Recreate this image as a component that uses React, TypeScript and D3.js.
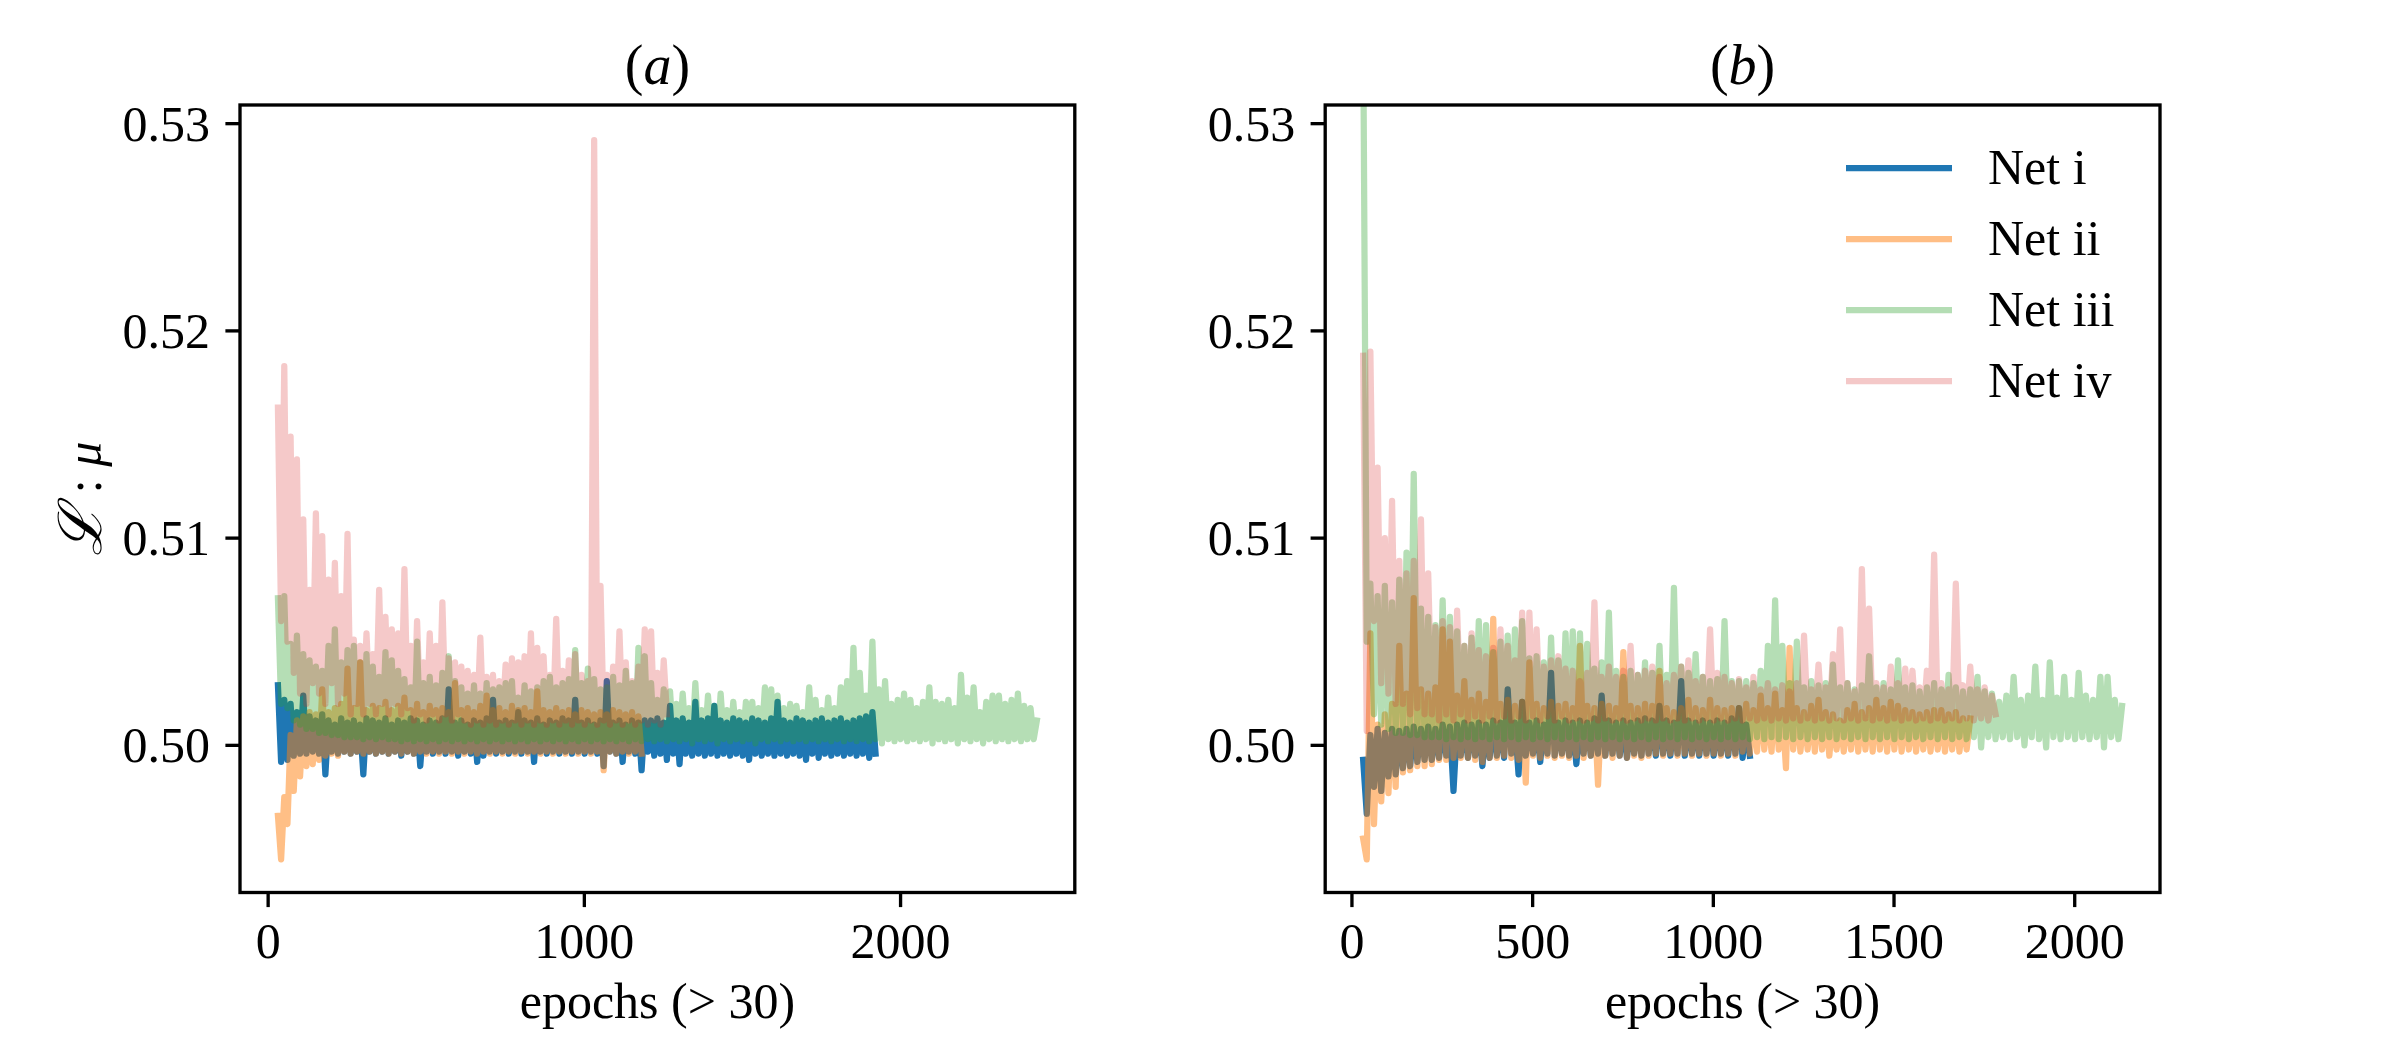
import React from "react";
import * as d3 from "d3";

// first logged epoch and spacing of the values below (peaks and troughs alternate)
const firstEpoch = 31;
const epochStep = 10;

// panel (a)
const netIa = [
  .5029, .4992, .5022, .4993, .5020, .4995, .5016, .4996, .5024, .4996, .5014, .4997, .5012, .4996, .5015, .4986, .5012, .4997, .5010, .4996,
  .5013, .4997, .5011, .4996, .5012, .4997, .5010, .4986, .5013, .4997, .5012, .4996, .5011, .4997, .5013, .4996, .5010, .4997, .5012, .4995,
  .5011, .4997, .5013, .4996, .5012, .4990, .5010, .4997, .5012, .4996, .5011, .4997, .5013, .4996, .5027, .4997, .5011, .4995, .5012, .4997,
  .5010, .4996, .5012, .4992, .5011, .4995, .5013, .4997, .5022, .4996, .5011, .4997, .5012, .4996, .5011, .4997, .5016, .4996, .5012, .4997,
  .5011, .4992, .5013, .4997, .5010, .4996, .5012, .4997, .5011, .4996, .5013, .4997, .5012, .4996, .5022, .4997, .5011, .4996, .5012, .4997,
  .5010, .4996, .5012, .4990, .5031, .4997, .5011, .4996, .5012, .4992, .5010, .4997, .5012, .4996, .5011, .4988, .5012, .4997, .5012, .4995,
  .5013, .4996, .5011, .4993, .5019, .4996, .5012, .4991, .5013, .4996, .5011, .4995, .5021, .4996, .5012, .4995, .5013, .4996, .5019, .4995,
  .5012, .4996, .5011, .4995, .5013, .4996, .5012, .4995, .5011, .4993, .5013, .4996, .5012, .4995, .5011, .4996, .5013, .4995, .5021, .4996,
  .5012, .4995, .5011, .4996, .5013, .4995, .5012, .4993, .5011, .4996, .5012, .4994, .5013, .4996, .5011, .4995, .5012, .4996, .5013, .4995,
  .5011, .4996, .5012, .4995, .5013, .4996, .5014, .4994, .5016, .4996,
];
const netIIa = [
  .4966, .4945, .4975, .4962, .5005, .4978, .5012, .4985, .5014, .4990, .5016, .4991, .5015, .4993, .5027, .4995, .5016, .4996, .5018, .4995,
  .5020, .4997, .5037, .4996, .5018, .4997, .5040, .4996, .5017, .4997, .5019, .4996, .5018, .4997, .5021, .4996, .5017, .4997, .5019, .4996,
  .5023, .4997, .5017, .4996, .5020, .4997, .5016, .4996, .5019, .4997, .5017, .4996, .5018, .4997, .5016, .4996, .5030, .4997, .5017, .4996,
  .5018, .4997, .5016, .4996, .5019, .4997, .5024, .4996, .5017, .4997, .5018, .4996, .5016, .4997, .5019, .4996, .5017, .4997, .5018, .4996,
  .5016, .4997, .5026, .4996, .5017, .4997, .5016, .4996, .5018, .4997, .5016, .4996, .5017, .4997, .5015, .4996, .5017, .4997, .5016, .4996,
  .5015, .4997, .5016, .4988, .5015, .4997, .5017, .4996, .5016, .4997, .5015, .4996, .5016, .4997, .5014, .4996,
];
const netIIIa = [
  .5071, .5020, .5072, .5018, .5049, .5012, .5053, .5010, .5044, .5008, .5041, .5008, .5038, .5006, .5036, .5006, .5048, .5005, .5056, .5005,
  .5040, .5004, .5046, .5004, .5048, .5004, .5040, .5003, .5044, .5004, .5038, .5003, .5033, .5004, .5045, .5003, .5041, .5003, .5036, .5002,
  .5032, .5003, .5028, .5002, .5050, .5003, .5030, .5002, .5033, .5003, .5029, .5002, .5035, .5003, .5043, .5002, .5031, .5003, .5028, .5002,
  .5025, .5003, .5029, .5002, .5025, .5003, .5030, .5002, .5027, .5003, .5028, .5002, .5030, .5003, .5031, .5002, .5023, .5003, .5029, .5002,
  .5026, .5003, .5028, .5002, .5031, .5003, .5033, .5002, .5028, .5003, .5030, .5002, .5032, .5003, .5046, .5002, .5030, .5003, .5037, .5002,
  .5032, .5003, .5027, .5002, .5028, .5003, .5033, .5002, .5029, .5003, .5036, .5002, .5030, .5003, .5047, .5002, .5043, .5003, .5030, .5002,
  .5022, .5003, .5027, .5002, .5026, .5003, .5020, .5002, .5025, .5003, .5018, .5001, .5030, .5003, .5017, .5002, .5024, .5003, .5019, .5001,
  .5025, .5003, .5017, .5002, .5021, .5003, .5016, .5002, .5021, .5003, .5021, .5001, .5018, .5003, .5028, .5002, .5027, .5003, .5024, .5002,
  .5018, .5003, .5020, .5002, .5019, .5003, .5016, .5002, .5028, .5003, .5022, .5002, .5017, .5003, .5023, .5002, .5018, .5003, .5028, .5002,
  .5031, .5003, .5047, .5002, .5035, .5003, .5024, .5002, .5050, .5003, .5027, .5001, .5031, .5003, .5020, .5002, .5022, .5003, .5025, .5002,
  .5022, .5003, .5018, .5002, .5021, .5003, .5028, .5001, .5021, .5003, .5020, .5002, .5022, .5003, .5018, .5001, .5034, .5003, .5023, .5002,
  .5028, .5003, .5016, .5001, .5021, .5003, .5024, .5002, .5024, .5003, .5020, .5002, .5022, .5003, .5025, .5002, .5019, .5003, .5018, .5003,
  .5012,
];
const netIVa = [
  .5163, .5060, .5183, .5050, .5149, .5035, .5138, .5025, .5109, .5020, .5075, .5030, .5112, .5025, .5101, .5020, .5080, .5030, .5088, .5020,
  .5072, .5025, .5102, .5015, .5051, .5020, .5048, .5015, .5054, .5020, .5044, .5015, .5075, .5020, .5062, .5015, .5056, .5020, .5054, .5015,
  .5085, .5018, .5048, .5012, .5060, .5015, .5040, .5012, .5054, .5015, .5048, .5012, .5069, .5015, .5042, .5012, .5040, .5015, .5038, .5012,
  .5036, .5010, .5034, .5012, .5052, .5010, .5033, .5012, .5034, .5010, .5031, .5012, .5039, .5010, .5042, .5012, .5040, .5010, .5043, .5012,
  .5054, .5010, .5047, .5012, .5043, .5010, .5034, .5012, .5061, .5010, .5036, .5012, .5041, .5010, .5044, .5012, .5034, .5010, .5031, .5012,
  .5292, .5010, .5077, .5012, .5034, .5010, .5038, .5012, .5055, .5010, .5040, .5012, .5031, .5010, .5038, .5012, .5056, .5010, .5055, .5012,
  .5035, .5010, .5041, .5015,
];

// panel (b)
const netIb = [
  .4993, .4967, .5005, .4980, .5008, .4978, .5006, .4985, .5008, .4986, .5007, .4989, .5008, .4990, .5009, .4992, .5008, .4993, .5009, .4993,
  .5008, .4994, .5010, .4995, .5009, .4978, .5010, .4995, .5011, .4994, .5010, .4995, .5011, .4990, .5010, .4994, .5012, .4995, .5011, .4994,
  .5027, .4996, .5011, .4986, .5021, .4995, .5011, .4996, .5012, .4992, .5010, .4996, .5035, .4995, .5011, .4996, .5012, .4995, .5011, .4991,
  .5012, .4996, .5011, .4995, .5013, .4996, .5024, .4995, .5012, .4996, .5011, .4995, .5012, .4994, .5011, .4996, .5012, .4995, .5013, .4996,
  .5012, .4995, .5019, .4996, .5012, .4995, .5011, .4996, .5031, .4995, .5012, .4996, .5011, .4995, .5012, .4996, .5011, .4995, .5012, .4996,
  .5011, .4995, .5013, .4996, .5018, .4994, .5010, .4995,
];
const netIIb = [
  .4955, .4945, .5054, .4962, .5010, .4973, .5015, .4977, .5020, .4980, .5048, .4987, .5025, .4988, .5071, .4990, .5027, .4990, .5025, .4991,
  .5028, .4993, .5056, .4993, .5050, .4994, .5024, .4994, .5031, .4994, .5022, .4993, .5025, .4992, .5021, .4994, .5061, .4994, .5020, .4995,
  .5022, .4994, .5019, .4993, .5021, .4982, .5040, .4995, .5020, .4994, .5018, .4995, .5021, .4994, .5019, .4995, .5020, .4994, .5018, .4995,
  .5048, .4994, .5019, .4995, .5018, .4981, .5020, .4995, .5019, .4994, .5018, .4995, .5045, .4994, .5019, .4995, .5018, .4994, .5020, .4995,
  .5019, .4996, .5036, .4995, .5018, .4996, .5016, .4995, .5018, .4996, .5022, .4995, .5018, .4996, .5017, .4995, .5022, .4996, .5018, .4995,
  .5017, .4996, .5018, .4995, .5018, .4997, .5020, .4996, .5017, .4997, .5024, .4998, .5018, .4997, .5025, .4998, .5017, .4989, .5047, .4998,
  .5018, .4997, .5016, .4998, .5019, .4997, .5022, .4998, .5016, .4995, .5015, .4998, .5012, .4997, .5017, .4998, .5020, .4997, .5016, .4998,
  .5018, .4997, .5022, .4998, .5018, .4997, .5021, .4998, .5019, .4997, .5017, .4998, .5016, .4997, .5015, .4998, .5016, .4997, .5017, .4998,
  .5017, .4997, .5015, .4998, .5016, .4997, .5013, .4998, .5013,
];
const netIIIb = [
  .5350, .5050, .5078, .5015, .5072, .5010, .5077, .5008, .5069, .5006, .5080, .5006, .5093, .5005, .5131, .5005, .5066, .5004, .5062, .5004,
  .5058, .5004, .5070, .5003, .5062, .5004, .5055, .5003, .5048, .5004, .5052, .5003, .5060, .5004, .5058, .5003, .5045, .5004, .5050, .5003,
  .5053, .5004, .5056, .5003, .5060, .5004, .5042, .5003, .5043, .5004, .5040, .5003, .5052, .5004, .5041, .5003, .5054, .5004, .5055, .5003,
  .5054, .5004, .5049, .5003, .5037, .5004, .5040, .5003, .5064, .5004, .5036, .5003, .5033, .5004, .5036, .5003, .5034, .5004, .5040, .5003,
  .5035, .5004, .5048, .5003, .5034, .5004, .5076, .5003, .5038, .5004, .5035, .5003, .5044, .5004, .5033, .5003, .5031, .5004, .5032, .5003,
  .5060, .5004, .5031, .5003, .5031, .5004, .5031, .5003, .5030, .5004, .5036, .5003, .5048, .5004, .5070, .5003, .5048, .5004, .5030, .5003,
  .5050, .5004, .5028, .5003, .5031, .5004, .5029, .5003, .5030, .5004, .5039, .5003, .5028, .5004, .5030, .5003, .5027, .5004, .5029, .5003,
  .5043, .5004, .5028, .5003, .5030, .5004, .5027, .5003, .5041, .5004, .5028, .5003, .5029, .5004, .5026, .5003, .5028, .5004, .5030, .5003,
  .5027, .5004, .5034, .5003, .5028, .5004, .5026, .5003, .5027, .5004, .5033, .4999, .5026, .5004, .5025, .5003, .5021, .5004, .5024, .5003,
  .5033, .5004, .5022, .5000, .5024, .5004, .5038, .5003, .5022, .4999, .5040, .5004, .5023, .5003, .5033, .5004, .5022, .5003, .5035, .5004,
  .5024, .5003, .5022, .5004, .5033, .4999, .5033, .5004, .5022, .5003, .5019,
];
const netIVb = [
  .5188, .5007, .5190, .5060, .5134, .5030, .5100, .5025, .5118, .5020, .5089, .5020, .5083, .5015, .5089, .5018, .5109, .5015, .5083, .5015,
  .5057, .5012, .5060, .5015, .5057, .5012, .5065, .5015, .5048, .5012, .5054, .5014, .5046, .5012, .5043, .5014, .5047, .5012, .5056, .5014,
  .5048, .5012, .5041, .5014, .5064, .5012, .5064, .5014, .5056, .5012, .5038, .5014, .5041, .5012, .5043, .5014, .5037, .5012, .5036, .5013,
  .5031, .5012, .5035, .5013, .5069, .5012, .5033, .5013, .5038, .5012, .5033, .5013, .5036, .5012, .5048, .5013, .5034, .5012, .5036, .5013,
  .5038, .5012, .5033, .5013, .5030, .5012, .5034, .5013, .5038, .5012, .5041, .5013, .5031, .5012, .5033, .5013, .5056, .5012, .5035, .5013,
  .5033, .5012, .5030, .5013, .5032, .5012, .5028, .5013, .5033, .5012, .5027, .5013, .5030, .5012, .5027, .5013, .5029, .5012, .5026, .5013,
  .5030, .5012, .5053, .5013, .5027, .5012, .5039, .5013, .5028, .5012, .5044, .5013, .5056, .5012, .5030, .5013, .5026, .5012, .5085, .5013,
  .5066, .5012, .5030, .5013, .5028, .5012, .5038, .5013, .5030, .5012, .5037, .5013, .5036, .5012, .5028, .5013, .5036, .5012, .5092, .5013,
  .5030, .5012, .5027, .5013, .5078, .5012, .5029, .5013, .5038, .5012, .5027, .5013, .5028, .5012, .5024, .5015,
];

const netLabels = ["Net i", "Net ii", "Net iii", "Net iv"];
const netColors = ["#1f77b4", "#ff7f0e", "#2ca02c", "#d62728"];
const netAlpha = [1, 0.5, 0.35, 0.25];
const yTicks = [0.5, 0.51, 0.52, 0.53];
const xTicksA = [0, 1000, 2000];
const xTicksB = [0, 500, 1000, 1500, 2000];
const yDomain = [0.4929, 0.5309];

const W = 2400;
const H = 1050;
const top = 105;
const bottom = 892.5;
const axW = 834.8;
const lw = 6.25;
const tickLen = 14.6;
const spineW = 3.33;
const serif = "'Liberation Serif', 'Times New Roman', 'DejaVu Serif', serif";

const Panel = ({ id, left, series, xTicks, title, legend, ylabel }: any) => {
    const n = d3.max(series, (s: number[]) => s.length) as number;
    const last = firstEpoch + (n - 1) * epochStep;
    const pad = 0.05 * (last - firstEpoch);
    const x = d3.scaleLinear().domain([firstEpoch - pad, last + pad]).range([left, left + axW]);
    const y = d3.scaleLinear().domain(yDomain).range([bottom, top]);
    const line = d3.line<number>()
        .x((_, i) => x(firstEpoch + i * epochStep))
        .y(d => y(d));

    return (
        <g fontFamily={serif}>
            <defs>
                <clipPath id={id}>
                    <rect x={left} y={top} width={axW} height={bottom - top} />
                </clipPath>
            </defs>
            <g clipPath={`url(#${id})`}>
                {series.map((s: number[], i: number) => (
                    <path key={i} d={line(s) as string} fill="none" stroke={netColors[i]} opacity={netAlpha[i]}
                        strokeWidth={lw} strokeLinejoin="round" strokeLinecap="square" />
                ))}
            </g>
            <rect x={left} y={top} width={axW} height={bottom - top} fill="none" stroke="#000" strokeWidth={spineW} />
            {xTicks.map((t: number) => (
                <g key={t}>
                    <line x1={x(t)} x2={x(t)} y1={bottom} y2={bottom + tickLen} stroke="#000" strokeWidth={spineW} />
                    <text x={x(t)} y={958} textAnchor="middle" fontSize={50}>{t}</text>
                </g>
            ))}
            {yTicks.map(t => (
                <g key={t}>
                    <line x1={left - tickLen} x2={left} y1={y(t)} y2={y(t)} stroke="#000" strokeWidth={spineW} />
                    <text x={left - 30} y={y(t) + 17} textAnchor="end" fontSize={50}>{t.toFixed(2)}</text>
                </g>
            ))}
            <text x={left + axW / 2} y={84} textAnchor="middle" fontSize={56}>
                (<tspan fontStyle="italic">{title}</tspan>)
            </text>
            <text x={left + axW / 2} y={1018} textAnchor="middle" fontSize={50}>epochs (&gt; 30)</text>
            {ylabel && (
                <text transform={`translate(101,${(top + bottom) / 2}) rotate(-90)`} textAnchor="middle" fontSize={50}>
                    <tspan fontFamily="'DejaVu Serif', serif" fontStyle="italic" fontSize={60}>ℒ</tspan>
                    <tspan> : </tspan>
                    <tspan fontStyle="italic">μ</tspan>
                </text>
            )}
            {legend && netLabels.map((name, i) => (
                <g key={name}>
                    <line x1={1846} x2={1952} y1={168 + 71 * i} y2={168 + 71 * i} stroke={netColors[i]}
                        opacity={netAlpha[i]} strokeWidth={lw} />
                    <text x={1988} y={168 + 71 * i + 16} fontSize={50}>{name}</text>
                </g>
            ))}
        </g>
    );
};

export default function App() {
    return (
        <div style={{ position: "absolute", left: 0, top: 0 }}>
            <svg width={W} height={H} viewBox={`0 0 ${W} ${H}`} style={{ display: "block", background: "#fff" }}>
                <Panel id="clip-a" left={240} series={[netIa, netIIa, netIIIa, netIVa]} xTicks={xTicksA} title="a" ylabel />
                <Panel id="clip-b" left={1325.2} series={[netIb, netIIb, netIIIb, netIVb]} xTicks={xTicksB} title="b" legend />
            </svg>
        </div>
    );
}
